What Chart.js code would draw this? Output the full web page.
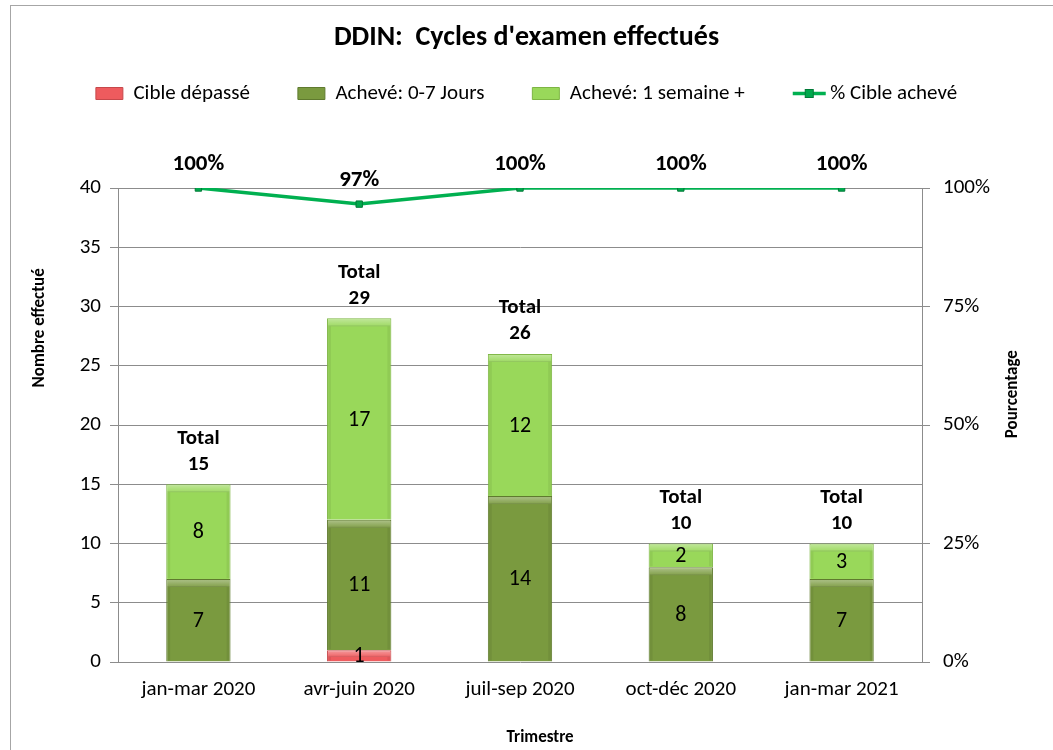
<!DOCTYPE html>
<html lang="fr">
<head>
<meta charset="UTF-8">
<title>DDIN: Cycles d'examen effectués</title>
<style>
  body { margin: 0; background: #fff; overflow: hidden; }
  .frame { position: absolute; left: 10px; top: 5px; width: 1100px; height: 800px; border: 1px solid #a6a6a6; }
  .chart-box { position: absolute; left: 0; top: 0; width: 1053px; height: 750px; }
</style>
</head>
<body>
<div class="frame"></div>
<div class="chart-box"><canvas id="chart"></canvas></div>

<script src="https://cdn.jsdelivr.net/npm/chart.js"></script>
<script>
// data
const quarters = ['jan-mar 2020', 'avr-juin 2020', 'juil-sep 2020', 'oct-déc 2020', 'jan-mar 2021'];
const cibleDepasse = [0, 1, 0, 0, 0];
const acheve07 = [7, 11, 14, 8, 7];
const acheve1sem = [8, 17, 12, 2, 3];
const pctAcheve = [100, 96.6, 100, 100, 100];
const countMax = 40, countStep = 5;
const pctMax = 100, pctStep = 25;

const FONT = 'Carlito, Calibri, Lato, sans-serif';
const GRID = '#8c8c8c';
Chart.defaults.font.family = FONT;
Chart.defaults.color = '#000';

// Excel-like bevel on top of each bar segment
const bevelPlugin = {
    id: 'bevel',
    afterDatasetsDraw(chart) {
        const ctx = chart.ctx;
        [0, 1, 2].forEach(i => {
            chart.getDatasetMeta(i).data.forEach((bar, j) => {
                if (!chart.data.datasets[i].data[j]) return;
                const p = bar.getProps(['x', 'y', 'base', 'width'], true);
                const left = p.x - p.width / 2;
                const top = Math.min(p.y, p.base);
                const h = Math.abs(p.base - p.y);
                const band = Math.min(7, h / 2);
                ctx.save();
                const g = ctx.createLinearGradient(0, top, 0, top + band);
                g.addColorStop(0, 'rgba(255,255,255,0.40)');
                g.addColorStop(1, 'rgba(255,255,255,0.10)');
                ctx.fillStyle = g;
                ctx.fillRect(left + 1, top + 1, p.width - 2, band);
                ctx.fillStyle = 'rgba(0,0,0,0.10)';
                ctx.fillRect(left + 1, top + band, p.width - 2, 1);
                ctx.fillStyle = 'rgba(0,0,0,0.06)';
                ctx.fillRect(left + 1, top + band + 1, 3, Math.max(0, h - band - 2));
                ctx.fillRect(left + p.width - 4, top + band + 1, 3, Math.max(0, h - band - 2));
                ctx.restore();
            });
        });
    }
};

// segment values, totals and percentages
const labelPlugin = {
    id: 'valueLabels',
    afterDatasetsDraw(chart) {
        const ctx = chart.ctx;
        ctx.save();
        ctx.textAlign = 'center';
        ctx.textBaseline = 'middle';
        ctx.fillStyle = '#000';

        ctx.font = '22px ' + FONT;
        [0, 1, 2].forEach(i => {
            chart.getDatasetMeta(i).data.forEach((bar, j) => {
                const v = chart.data.datasets[i].data[j];
                if (!v) return;
                const p = bar.getProps(['x', 'y', 'base'], true);
                ctx.fillText(v, p.x, (p.y + p.base) / 2 + 1);
            });
        });

        ctx.font = 'bold 21px ' + FONT;
        const yScale = chart.scales.y;
        const topMeta = chart.getDatasetMeta(2);
        quarters.forEach((q, j) => {
            const total = cibleDepasse[j] + acheve07[j] + acheve1sem[j];
            const x = topMeta.data[j].x;
            const yTop = yScale.getPixelForValue(total);
            ctx.fillText('Total', x, yTop - 46);
            ctx.fillText(total, x, yTop - 20);
        });

        ctx.font = 'bold 23px ' + FONT;
        chart.getDatasetMeta(3).data.forEach((pt, j) => {
            ctx.fillText(Math.round(pctAcheve[j]) + '%', pt.x, pt.y - 24);
        });
        ctx.restore();
    }
};

// axis titles placed like the original (left/right read bottom-to-top)
const axisTitlePlugin = {
    id: 'axisTitles',
    afterDraw(chart) {
        const ctx = chart.ctx;
        const a = chart.chartArea;
        ctx.save();
        ctx.fillStyle = '#000';
        ctx.font = 'bold 17px ' + FONT;
        ctx.textAlign = 'center';
        ctx.textBaseline = 'middle';
        ctx.fillText('Trimestre', a.left + (a.right - a.left) * 0.525, chart.height - 12);
        [['Nombre effectué', 40, 0.295], ['Pourcentage', chart.width - 40, 0.435]].forEach(([t, x, f]) => {
            ctx.save();
            ctx.translate(x, a.top + (a.bottom - a.top) * f);
            ctx.rotate(-Math.PI / 2);
            ctx.fillText(t, 0, 0);
            ctx.restore();
        });
        ctx.restore();
    }
};

// line-with-marker symbol for the % legend entry
const legendLinePlugin = {
    id: 'legendLine',
    afterDraw(chart) {
        const hb = chart.legend.legendHitBoxes[3];
        if (!hb) return;
        const ctx = chart.ctx;
        const ds = chart.data.datasets[3];
        const y = hb.top + hb.height / 2;
        ctx.save();
        ctx.strokeStyle = ds.borderColor;
        ctx.lineWidth = 3.5;
        ctx.beginPath();
        ctx.moveTo(hb.left, y);
        ctx.lineTo(hb.left + 33, y);
        ctx.stroke();
        ctx.fillStyle = ds.pointBackgroundColor;
        ctx.strokeStyle = ds.pointBorderColor;
        ctx.lineWidth = 1;
        ctx.fillRect(hb.left + 12.5, y - 4, 8, 8);
        ctx.strokeRect(hb.left + 12.5, y - 4, 8, 8);
        ctx.restore();
    }
};

const ctx = document.getElementById('chart').getContext('2d');
const chart = new Chart(ctx, {
    type: 'bar',
    data: {
        labels: quarters,
        datasets: [
            {
                label: 'Cible dépassé',
                data: cibleDepasse,
                backgroundColor: '#ee5b5e',
                borderColor: '#c6484b',
                borderWidth: 1,
                yAxisID: 'y'
            },
            {
                label: 'Achevé: 0-7 Jours',
                data: acheve07,
                backgroundColor: '#7a9a3f',
                borderColor: '#5f7a2e',
                borderWidth: 1,
                yAxisID: 'y'
            },
            {
                label: 'Achevé: 1 semaine +',
                data: acheve1sem,
                backgroundColor: '#99d85a',
                borderColor: '#7db543',
                borderWidth: 1,
                yAxisID: 'y'
            },
            {
                type: 'line',
                label: '% Cible achevé',
                data: pctAcheve,
                borderColor: '#00b050',
                backgroundColor: '#00b050',
                borderWidth: 3.5,
                pointStyle: 'rect',
                pointRadius: 4.5,
                pointBackgroundColor: '#00a84c',
                pointBorderColor: '#007a37',
                pointBorderWidth: 1,
                tension: 0,
                yAxisID: 'y1'
            }
        ]
    },
    options: {
        responsive: true,
        maintainAspectRatio: false,
        animation: false,
        layout: { padding: 0 },
        datasets: {
            bar: { barPercentage: 0.4, categoryPercentage: 1 }
        },
        plugins: {
            title: {
                display: true,
                text: "DDIN:  Cycles d'examen effectués",
                font: { size: 28, weight: 'bold' },
                color: '#000',
                padding: { top: 21, bottom: -19.6 }
            },
            legend: {
                display: true,
                labels: {
                    boxWidth: 27,
                    boxHeight: 12,
                    padding: 48,
                    font: { size: 21 },
                    color: '#000',
                    generateLabels(c) {
                        const items = Chart.defaults.plugins.legend.labels.generateLabels(c);
                        items[3].fillStyle = 'rgba(0,0,0,0)';
                        items[3].strokeStyle = 'rgba(0,0,0,0)';
                        items[3].lineWidth = 0;
                        return items;
                    }
                }
            },
            // empty block used only as spacing between legend and plot
            subtitle: {
                display: true,
                text: ' ',
                weight: 500,
                font: { size: 10 },
                padding: { top: 62, bottom: 0 }
            },
            tooltip: { enabled: false }
        },
        scales: {
            x: {
                stacked: true,
                grid: { display: false, drawTicks: false },
                border: { display: false },
                ticks: { font: { size: 21 }, padding: 15, color: '#000' },
                afterFit(scale) { scale.height = 88; }
            },
            y: {
                stacked: true,
                position: 'left',
                min: 0,
                max: countMax,
                ticks: { stepSize: countStep, font: { size: 21 }, padding: 9, color: '#000' },
                grid: { color: GRID, lineWidth: 1, tickLength: 8 },
                border: { display: true, color: GRID },
                afterFit(scale) { scale.width = 118; }
            },
            y1: {
                stacked: false,
                position: 'right',
                min: 0,
                max: pctMax,
                ticks: {
                    stepSize: pctStep,
                    font: { size: 21 },
                    padding: 13,
                    color: '#000',
                    callback: v => v + '%'
                },
                grid: { drawOnChartArea: false, color: GRID, tickLength: 8 },
                border: { display: true, color: GRID },
                afterFit(scale) { scale.width = 131; }
            }
        }
    },
    plugins: [bevelPlugin, labelPlugin, axisTitlePlugin, legendLinePlugin]
});
</script>
</body>
</html>
